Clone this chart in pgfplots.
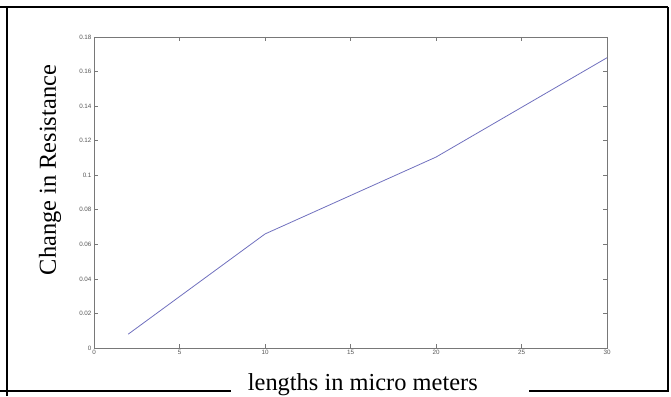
\documentclass[border=0pt]{standalone}
\usepackage{fontspec}
\setmainfont{Liberation Serif}
\setsansfont{Liberation Sans}
\usepackage{pgfplots}
\pgfplotsset{compat=1.18}
\definecolor{linec}{RGB}{112,112,190}
\definecolor{axc}{RGB}{120,120,120}
\definecolor{tlc}{RGB}{85,85,85}
\begin{document}
\begin{tikzpicture}[x=1bp,y=1bp]
\path[use as bounding box] (0,0) rectangle (671,396);
\draw[line width=2.6bp,black] (0,389) -- (668,389);
\draw[line width=2.6bp,black] (7,0) -- (7,389);
\draw[line width=2.6bp,black] (668,389) -- (668,5);
\draw[line width=2.6bp,black] (0,5) -- (231,5);
\draw[line width=2.6bp,black] (529,5) -- (669.3,5);
\begin{axis}[
  at={(94bp,48bp)}, anchor=south west,
  scale only axis, width=513bp, height=311bp,
  xmin=0, xmax=30, ymin=0, ymax=0.18,
  xtick={0,5,10,15,20,25,30},
  ytick={0,0.02,0.04,0.06,0.08,0.1,0.12,0.14,0.16,0.18},
  axis line style={axc, line width=0.9bp},
  tick style={axc, line width=0.7bp},
  tick align=inside, major tick length=4bp,
  /pgf/number format/assume math mode=true,
  ticklabel style={font=\sffamily\fontsize{6.3}{7}\selectfont, text=tlc},
  xticklabel style={yshift=1bp},
  yticklabel style={/pgf/number format/fixed, /pgf/number format/precision=2, xshift=1bp},
  scaled y ticks=false,
  xlabel={lengths in micro meters},
  xlabel style={at={(axis description cs:0.524,-0.138)}, anchor=base, inner sep=0pt, font=\fontsize{24.5}{26}\selectfont},
  ylabel={Change in Resistance},
  ylabel style={at={(axis description cs:-0.0858,0.572)}, anchor=center, font=\fontsize{24.5}{26}\selectfont},
]
\addplot[linec, line width=0.8bp] coordinates {(2,0.008) (10,0.066) (20,0.1105) (30,0.168)};
\end{axis}
\end{tikzpicture}
\end{document}
